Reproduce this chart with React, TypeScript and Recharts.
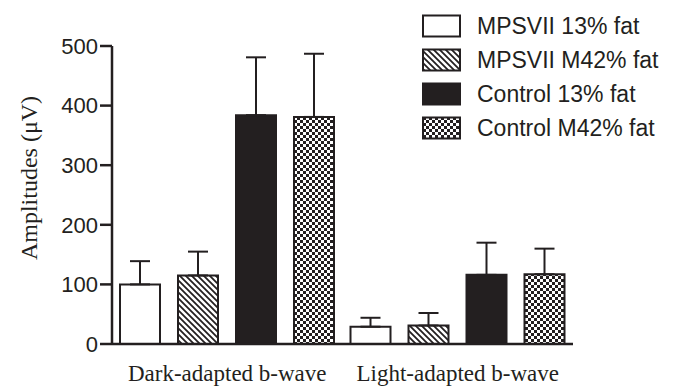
import React from 'react';
import { Bar, BarChart, ErrorBar, Legend, XAxis, YAxis, Label } from 'recharts';

const categories = ['Dark-adapted b-wave', 'Light-adapted b-wave'];

const mps13 = [100, 29];
const mps13Err = [39, 15];
const mps42 = [115, 31];
const mps42Err = [40, 21];
const ctl13 = [384, 116];
const ctl13Err = [97, 54];
const ctl42 = [381, 117];
const ctl42Err = [106, 43];

const yTicks = [0, 100, 200, 300, 400, 500];

const ink = '#231f20';

type Series = { key: string, name: string, fill: string };

const series: Series[] = [
    { key: 'mps13', name: 'MPSVII 13% fat', fill: '#ffffff' },
    { key: 'mps42', name: 'MPSVII M42% fat', fill: 'url(#hatch)' },
    { key: 'ctl13', name: 'Control 13% fat', fill: ink },
    { key: 'ctl42', name: 'Control M42% fat', fill: 'url(#checker)' },
];

const chartData = categories.map((name, i) => ({
    name,
    mps13: mps13[i], mps13Err: [0, mps13Err[i]],
    mps42: mps42[i], mps42Err: [0, mps42Err[i]],
    ctl13: ctl13[i], ctl13Err: [0, ctl13Err[i]],
    ctl42: ctl42[i], ctl42Err: [0, ctl42Err[i]],
}));

const Patterns = () => (
    <svg width={0} height={0} style={{ position: 'absolute' }}>
        <defs>
            <pattern id="hatch" patternUnits="userSpaceOnUse" width={6} height={6}>
                <rect width={6} height={6} fill="#fff" />
                <path d="M0,0 L6,6 M-1,5 L1,7 M5,-1 L7,1" stroke={ink} strokeWidth={1.8} />
            </pattern>
            <pattern id="checker" patternUnits="userSpaceOnUse" width={6} height={6}>
                <rect width={6} height={6} fill="#fff" />
                <rect width={3} height={3} fill={ink} />
                <rect x={3} y={3} width={3} height={3} fill={ink} />
            </pattern>
        </defs>
    </svg>
);

const LegendBox = () => (
    <svg width={256} height={150}>
        {series.map((s, i) => {
            const cy = 26 + i * 34;
            return (
                <g key={s.key}>
                    <rect x={3} y={cy - 10.5} width={37} height={21} fill={s.fill} stroke={ink} strokeWidth={2} />
                    <text x={57} y={cy + 8.3} fontFamily="Liberation Sans" fontSize={23} fill={ink}>{s.name}</text>
                </g>
            );
        })}
    </svg>
);

const YLabel = () => (
    <text x={37} y={178} transform="rotate(-90, 37, 178)" textAnchor="middle"
        fontFamily="Liberation Serif" fontSize={24} fill={ink}>
        Amplitudes (μV)
    </text>
);

const App = () => {
    return (
        <div style={{ position: 'absolute', left: 0, top: 0, width: 676, height: 387, background: '#fff' }}>
            <Patterns />
            <BarChart width={676} height={387} data={chartData}
                margin={{ top: 46, right: 103, bottom: 0, left: 0 }}
                barSize={40} barGap={18}>
                <XAxis dataKey="name" tickLine={false} tickSize={0} tickMargin={21} height={43}
                    axisLine={{ stroke: ink, strokeWidth: 2.5 }}
                    tick={{ fontFamily: 'Liberation Serif', fontSize: 23, fill: ink }} />
                <YAxis domain={[0, 500]} ticks={yTicks} width={112} tickSize={12} tickMargin={2}
                    axisLine={{ stroke: ink, strokeWidth: 2.5 }}
                    tickLine={{ stroke: ink, strokeWidth: 2.5 }}
                    tick={{ fontFamily: 'Liberation Sans', fontSize: 22, fill: ink }}>
                    <Label content={<YLabel />} />
                </YAxis>
                <Legend layout="vertical" align="center" verticalAlign="middle"
                    wrapperStyle={{ top: 0, left: 420 }} content={<LegendBox />} />
                {series.map((s) => (
                    <Bar key={s.key} dataKey={s.key} name={s.name} fill={s.fill}
                        stroke={ink} strokeWidth={2} isAnimationActive={false}>
                        <ErrorBar dataKey={s.key + 'Err'} width={10} stroke={ink} strokeWidth={2} direction="y" />
                    </Bar>
                ))}
            </BarChart>
        </div>
    );
};

export default App;
